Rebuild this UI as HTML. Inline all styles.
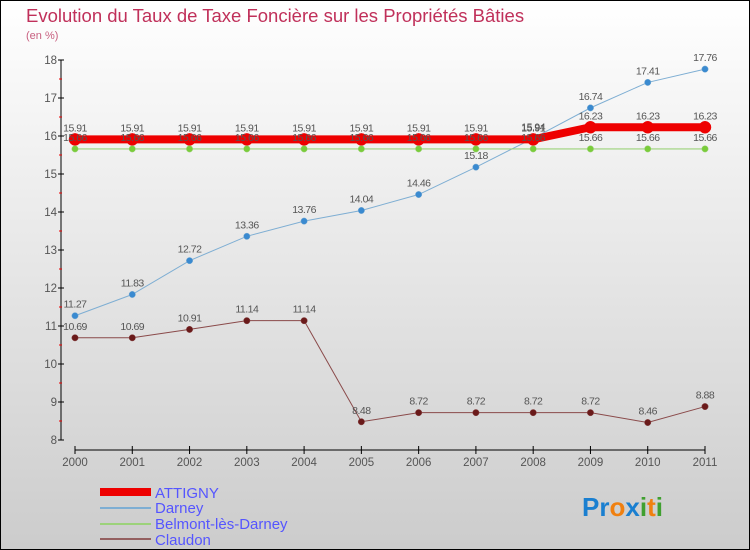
<!DOCTYPE html>
<html><head><meta charset="utf-8"><style>
body{margin:0}
svg{display:block;font-family:"Liberation Sans",sans-serif}
</style></head><body>
<svg id="c" width="750" height="550" viewBox="0 0 750 550">
<defs><linearGradient id="bg" x1="0" y1="0" x2="0" y2="1"><stop offset="0" stop-color="#ffffff"/><stop offset="1" stop-color="#cccccc"/></linearGradient></defs>
<rect x="0.5" y="0.5" width="749" height="549" fill="url(#bg)" stroke="#000"/>
<text x="26" y="22" font-size="18.5" fill="#c0305a" style="font-weight:normal">Evolution du Taux de Taxe Foncière sur les Propriétés Bâties</text>
<text x="26" y="39" font-size="11" fill="#c86080">(en %)</text>
<g id="axes"></g><g id="series"></g>
<g>
<rect x="100" y="488" width="51" height="8" fill="#ee0000"/>
<text x="155" y="498" font-size="15" fill="#5555ff">ATTIGNY</text>
<line x1="100" y1="508" x2="151" y2="508" stroke="#7eaed3" stroke-width="2"/>
<text x="155" y="513" font-size="15" fill="#5555ff">Darney</text>
<line x1="100" y1="524" x2="151" y2="524" stroke="#9cd27a" stroke-width="2"/>
<text x="155" y="529" font-size="15" fill="#5555ff">Belmont-lès-Darney</text>
<line x1="100" y1="539" x2="151" y2="539" stroke="#946060" stroke-width="2"/>
<text x="155" y="545" font-size="15" fill="#5555ff">Claudon</text>
</g>
<text x="582" y="516" font-size="26" font-weight="bold"><tspan fill="#1a7fd0">Pr</tspan><tspan fill="#f08010">o</tspan><tspan fill="#1a7fd0">x</tspan><tspan fill="#40a030">i</tspan><tspan fill="#f08010">t</tspan><tspan fill="#40a030">i</tspan></text>
</svg>
<script>
const years=["2000","2001","2002","2003","2004","2005","2006","2007","2008","2009","2010","2011"];
const yTicks=[8,9,10,11,12,13,14,15,16,17,18];
const attigny=[15.91,15.91,15.91,15.91,15.91,15.91,15.91,15.91,15.91,16.23,16.23,16.23];
const darney=[11.27,11.83,12.72,13.36,13.76,14.04,14.46,15.18,15.94,16.74,17.41,17.76];
const belmont=[15.66,15.66,15.66,15.66,15.66,15.66,15.66,15.66,15.66,15.66,15.66,15.66];
const claudon=[10.69,10.69,10.91,11.14,11.14,8.48,8.72,8.72,8.72,8.72,8.46,8.88];
const NS="http://www.w3.org/2000/svg";
const X=i=>75+i*(630/11);
const Y=v=>440-(v-8)*38;
function mk(t,a,p){const e=document.createElementNS(NS,t);for(const k in a)e.setAttribute(k,a[k]);p.appendChild(e);return e;}
const ax=document.getElementById('axes');
let yl=mk('line',{x1:61,y1:Y(18),x2:61,y2:Y(8),stroke:'#000'},ax);


yTicks.forEach((t,i)=>{
 mk('line',{x1:58,y1:Y(t),x2:64,y2:Y(t),stroke:'#000'},ax);
 if(i<yTicks.length-1)mk('line',{x1:59,y1:Y(t+0.5),x2:62,y2:Y(t+0.5),stroke:'#e00'},ax);
 const tx=mk('text',{x:57,y:Y(t)+4,'font-size':11.5,fill:'#555','text-anchor':'end'},ax);tx.textContent=t;
 
 
});
let xl=mk('line',{x1:X(0),y1:450,x2:X(11),y2:450,stroke:'#000'},ax);


years.forEach((y,i)=>{
 mk('line',{x1:X(i),y1:446,x2:X(i),y2:454,stroke:'#000'},ax);
 const tx=mk('text',{x:X(i),y:466,'font-size':11.5,fill:'#555','text-anchor':'middle'},ax);tx.textContent=y;
 
 
});
const sg=document.getElementById('series');
function series(name,vals,color,w,r,dot){
 const g=mk('g',{},sg);
 
 
 mk('polyline',{points:vals.map((v,i)=>X(i)+','+Y(v)).join(' '),fill:'none',stroke:color,'stroke-width':w},g);
 vals.forEach((v,i)=>{
  const c=mk('circle',{cx:X(i),cy:Y(v),r:r,fill:dot,stroke:color,'stroke-width':0.5},g);
  
  
  const t=mk('text',{x:X(i),y:Y(v)-8,'font-size':10.5,fill:'#555','text-anchor':'middle','letter-spacing':'-0.5'},g);t.textContent=v;
  
  
 });
}
series('claudon',claudon,'#8a4a4a',1,3.2,'#6a1a1a');
series('darney',darney,'#7eaed3',1,3.2,'#3a8ad0');
series('attigny',attigny,'#ee0000',8,6,'#ee0000');
series('belmont',belmont,'#9cd27a',1.2,3.2,'#7acc3a');
</script>
</body></html>
